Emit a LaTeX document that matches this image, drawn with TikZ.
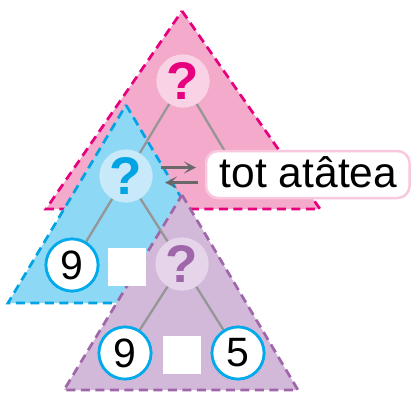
\documentclass[tikz,border=0pt]{standalone}
\usepackage{fontspec}
\setmainfont{Liberation Sans}
\usetikzlibrary{arrows.meta}
\definecolor{pinkfill}{RGB}{244,170,203}
\definecolor{pinkline}{RGB}{230,0,126}
\definecolor{pinkcirc}{RGB}{249,211,229}
\definecolor{bluefill}{RGB}{141,216,245}
\definecolor{blueline}{RGB}{0,163,227}
\definecolor{bluecirc}{RGB}{199,233,249}
\definecolor{purpfill}{RGB}{211,185,217}
\definecolor{purpline}{RGB}{160,102,170}
\definecolor{purpcirc}{RGB}{230,213,234}
\definecolor{numline}{RGB}{0,170,235}
\definecolor{boxline}{RGB}{249,200,222}
\definecolor{branch}{RGB}{150,150,150}
\definecolor{arrgray}{RGB}{105,105,105}
\tikzset{
  tri/.style={line width=2.7pt, dash pattern=on 9pt off 5.5pt, line join=miter},
  qcirc/.style={circle, minimum size=53pt, inner sep=0pt, font=\fontsize{53}{53}\selectfont\bfseries},
  ncirc/.style={circle, draw=numline, line width=2.7pt, fill=white, minimum size=52pt, inner sep=0pt, font=\fontsize{41}{41}\selectfont},
  sq/.style={fill=white, minimum size=38pt, inner sep=0pt},
  branchline/.style={draw=branch, line width=2.3pt},
  arr/.style={draw=arrgray, line width=2.6pt, -{Stealth[length=12pt,width=12pt,inset=6pt]}},
}
\begin{document}
\begin{tikzpicture}[x=1pt,y=-1pt]
\useasboundingbox (0,0) rectangle (411,392);
% triangles
\draw[tri, draw=pinkline, fill=pinkfill] (182,11) -- (320,209) -- (46,209) -- cycle;
\draw[tri, draw=blueline, fill=bluefill] (126,105) -- (244,303) -- (8,303) -- cycle;
\draw[tri, draw=purpline, fill=purpfill] (182,195) -- (298,390) -- (64,390) -- cycle;
% nodes
\node[qcirc, fill=pinkcirc, text=pinkline] (pq) at (183,81) {?};
\node[qcirc, fill=bluecirc, text=blueline] (bq) at (126,176) {?};
\node[qcirc, fill=purpcirc, text=purpline] (vq) at (182,264) {?};
\node[ncirc] (n9a) at (72,265) {9};
\node[sq] (s1) at (127,267) {};
\node[ncirc] (n9b) at (125,353) {9};
\node[sq] (s2) at (182,355) {};
\node[ncirc] (n5) at (238,353) {5};
\coordinate (pr) at (239,175);
% branches
\draw[branchline] (pq) -- (bq);
\draw[branchline] (pq) -- (pr);
\draw[branchline] (bq) -- (n9a);
\draw[branchline] (bq) -- (vq);
\draw[branchline] (vq) -- (n9b);
\draw[branchline] (vq) -- (n5);
% redraw circles on top of branches
\node[qcirc, fill=pinkcirc, text=pinkline] at (pq) {?};
\node[qcirc, fill=bluecirc, text=blueline] at (bq) {?};
\node[qcirc, fill=purpcirc, text=purpline] at (vq) {?};
\node[ncirc] at (n9a) {9};
\node[ncirc] at (n9b) {9};
\node[ncirc] at (n5) {5};
% label box
\draw[draw=boxline, line width=2.5pt, fill=white, rounded corners=12pt] (206,151) rectangle (409.5,198);
\node[anchor=base, font=\fontsize{42.5}{42.5}\selectfont, inner sep=0pt] (lab) at (308.5,187) {tot atâtea};
% arrows
\coordinate (a1s) at (161,167.5);
\coordinate (a1e) at (196,167.5);
\coordinate (a2s) at (198,182.5);
\coordinate (a2e) at (165,182.5);
\draw[arr] (a1s) -- (a1e);
\draw[arr] (a2s) -- (a2e);
\end{tikzpicture}
\end{document}
